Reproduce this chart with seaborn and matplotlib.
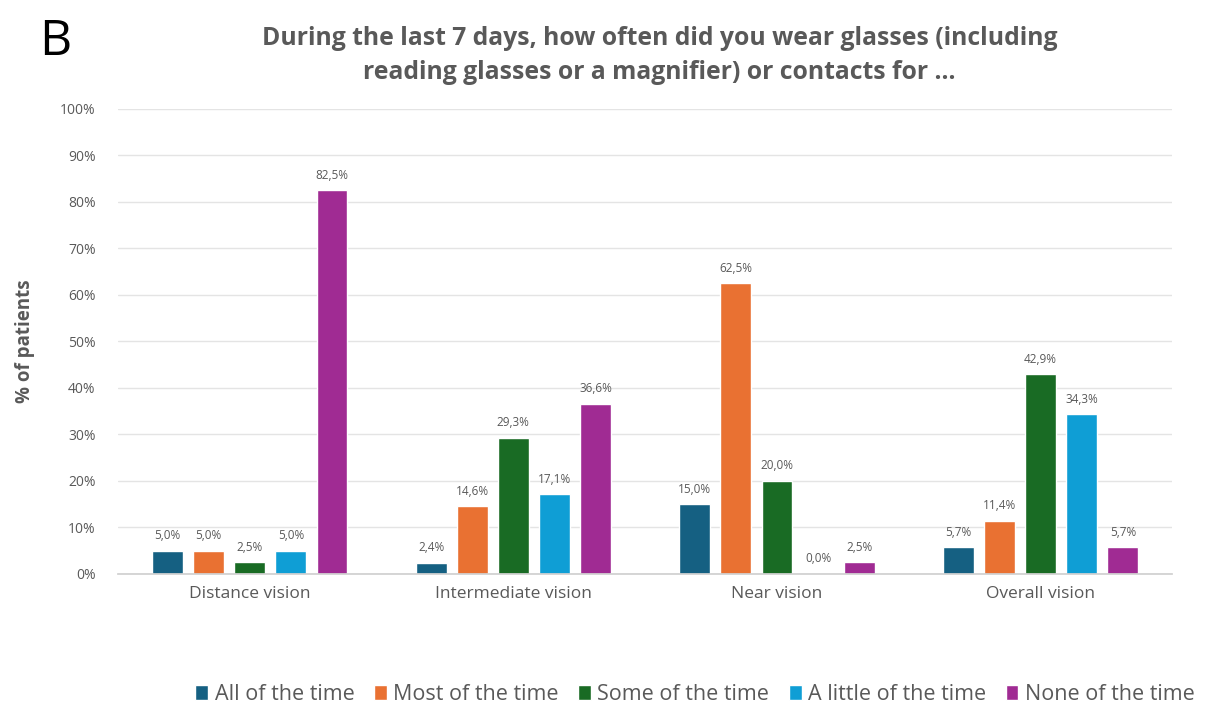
import matplotlib
matplotlib.use("Agg")
import matplotlib.pyplot as plt
import matplotlib.ticker as mticker
import seaborn as sns
import pandas as pd

# ── data ───────────────────────────────────────────────────────────────
categories = ["Distance vision", "Intermediate vision", "Near vision", "Overall vision"]
responses = ["All of the time", "Most of the time", "Some of the time",
             "A little of the time", "None of the time"]
all_time = [5.0, 2.4, 15.0, 5.7]
most_time = [5.0, 14.6, 62.5, 11.4]
some_time = [2.5, 29.3, 20.0, 42.9]
little_time = [5.0, 17.1, 0.0, 34.3]
none_time = [82.5, 36.6, 2.5, 5.7]
colors = ["#156082", "#E97132", "#196B24", "#0F9ED5", "#A02B93"]

series = [all_time, most_time, some_time, little_time, none_time]
df = pd.DataFrame(
    [(cat, resp, vals[i]) for resp, vals in zip(responses, series)
     for i, cat in enumerate(categories)],
    columns=["category", "response", "pct"],
)

sns.set_theme(style="white")
plt.rcParams["font.family"] = ["Open Sans", "DejaVu Sans"]

fig = plt.figure(figsize=(12.15, 7.11), dpi=100)
ax = fig.add_axes([0.097, 0.193, 0.868, 0.654])

sns.barplot(data=df, x="category", y="pct", hue="response",
            order=categories, hue_order=responses, palette=colors,
            width=0.78, gap=0.25, saturation=1, ax=ax)

for cont in ax.containers:
    ax.bar_label(cont, labels=[f"{b.get_height():.1f}%".replace(".", ",") for b in cont],
                 padding=6, fontsize=8.5, color="#595959")

ax.set_ylim(0, 100)
ax.set_yticks(range(0, 101, 10))
ax.yaxis.set_major_formatter(mticker.FuncFormatter(lambda v, _: f"{int(v)}%"))
ax.grid(axis="y", color="#E4E4E4", linewidth=1)
ax.set_axisbelow(True)
for s in ["top", "right", "left"]:
    ax.spines[s].set_visible(False)
ax.spines["bottom"].set_color("#D0D0D0")
ax.tick_params(axis="y", labelsize=10, labelcolor="#595959", length=0, pad=16)
ax.tick_params(axis="x", labelsize=12.5, labelcolor="#595959", length=0, pad=9)
ax.set_xlabel("")
ax.set_ylabel("% of patients", fontsize=13.5, fontweight="bold", color="#595959", labelpad=18)

fig.text(0.543, 0.922, "During the last 7 days, how often did you wear glasses (including\n"
         "reading glasses or a magnifier) or contacts for ...",
         ha="center", va="center", fontsize=17.8, fontweight="bold", color="#595959",
         linespacing=1.45)
fig.text(0.032, 0.94, "B", fontsize=36, color="black", ha="left", va="center")

ax.legend_.remove()
handles, labels = ax.get_legend_handles_labels()
fig.legend(handles, labels, loc="center", bbox_to_anchor=(0.572, 0.023), ncol=5,
           frameon=False, fontsize=15.5, handlelength=0.6, handleheight=0.7,
           handletextpad=0.3, columnspacing=0.9, labelcolor="#595959")

fig.savefig("out.png", dpi=100)
